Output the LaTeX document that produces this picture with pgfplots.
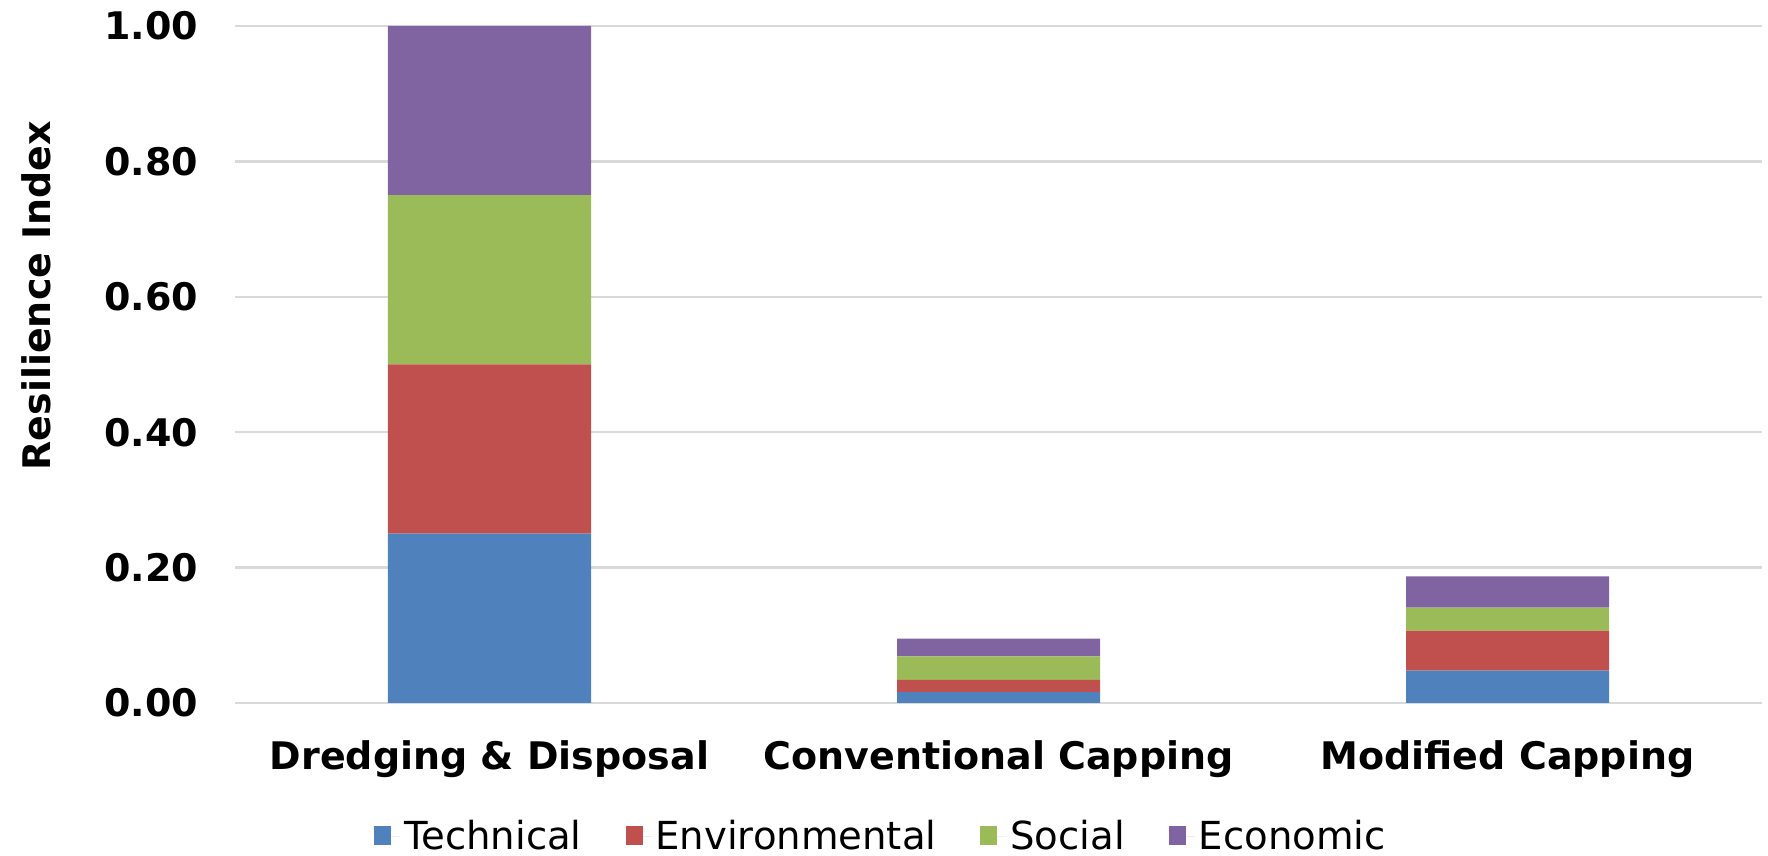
\documentclass[border=0pt]{standalone}
\usepackage{fontspec}
\setmainfont{DejaVu Sans}
\usepackage{pgfplots}
\pgfplotsset{compat=1.18}
\definecolor{cTech}{HTML}{4F81BD}
\definecolor{cEnv}{HTML}{C0504D}
\definecolor{cSoc}{HTML}{9BBB59}
\definecolor{cEco}{HTML}{8064A2}
\definecolor{gridgray}{HTML}{D9D9D9}
\begin{document}
\begin{tikzpicture}
\path[use as bounding box] (-117.5pt,-76.35pt) rectangle (766.5pt,351.5pt);
\begin{axis}[
  at={(0,0)}, anchor=south west,
  scale only axis, width=763.5pt, height=338.5pt,
  ybar stacked, bar width=101.5pt,
  xmin=-0.5, xmax=2.5, ymin=0, ymax=1,
  xtick={0,1,2},
  xticklabels={Dredging \& Disposal, Conventional Capping, Modified Capping},
  ytick={0,0.2,0.4,0.6,0.8,1.0},
  yticklabel style={/pgf/number format/fixed, /pgf/number format/fixed zerofill, /pgf/number format/precision=2, /pgf/number format/assume math mode=true},
  ymajorgrids, grid style={draw=gridgray, line width=1.2pt},
  axis line style={draw=none},
  major tick length=0pt,
  tick label style={font=\fontsize{19}{22}\selectfont\bfseries},
  yticklabel style={xshift=-15pt},
  xticklabel style={yshift=-15.5pt},
  ylabel={Resilience Index},
  ylabel style={font=\fontsize{19}{22}\selectfont\bfseries, at={(axis description cs:-0.1303,0.6017)}, anchor=center},
  legend style={at={(axis description cs:0.4237,-0.1976)}, anchor=center, draw=none, legend columns=4,
     font=\fontsize{19.3}{22}\selectfont, /tikz/every even column/.append style={column sep=20pt}},
  legend image code/.code={\fill[#1] (0pt,-4pt) rectangle (8.5pt,5.5pt); \path (0pt,0pt) -- (13pt,0pt);},
]
\addplot[fill=cTech, draw=none] coordinates {(0,0.25) (1,0.016) (2,0.048)};
\addplot[fill=cEnv, draw=none] coordinates {(0,0.25) (1,0.018) (2,0.059)};
\addplot[fill=cSoc, draw=none] coordinates {(0,0.25) (1,0.035) (2,0.034)};
\addplot[fill=cEco, draw=none] coordinates {(0,0.25) (1,0.026) (2,0.046)};
\legend{Technical, Environmental, Social, Economic}
\end{axis}
\end{tikzpicture}
\end{document}
